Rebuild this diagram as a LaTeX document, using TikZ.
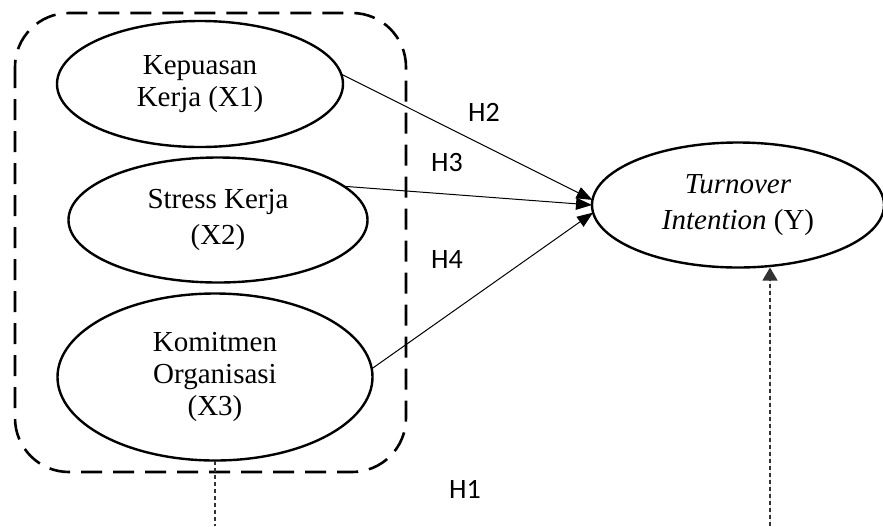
\documentclass[tikz,border=0pt]{standalone}
\usepackage{fontspec}
\setmainfont{Liberation Serif}
\newfontfamily\hfont{Carlito}
\usepackage{xcolor}
\usetikzlibrary{arrows.meta,positioning,shapes.geometric}
\definecolor{cLine}{HTML}{000000}
\definecolor{cDot}{HTML}{333333}
\tikzset{
  var/.style  ={draw=cLine, ellipse, line width=1.2pt, align=center, inner sep=0pt,
                outer sep=0pt, font=\fontsize{14.5}{16}\selectfont},
  grp/.style  ={draw=cLine, dash pattern=on 10.5pt off 5.5pt, line width=1.3pt, rounded corners=27pt},
  hyp/.style  ={font=\hfont\fontsize{14}{16}\selectfont, inner sep=0pt},
  arrow/.style={-{Triangle[length=8pt,width=6pt]}, line width=0.5pt, draw=cLine},
  dline/.style={dash pattern=on 2pt off 1.5pt, line width=0.6pt, draw=cDot},
  darrow/.style={dline, -{Triangle[length=6.5pt,width=7.5pt]}, fill=cLine},
}
\begin{document}
\begin{tikzpicture}[x=0.5pt, y=-0.5pt]
    \useasboundingbox (0,0) rectangle (883,526);
    % dashed group of the independent variables
    \draw[grp] (15,13) rectangle (406,472);
    \node[var, minimum width=143pt, minimum height=63pt] (kk) at (200,84) {Kepuasan\\Kerja (X1)};
    \node[var, minimum width=149.5pt, minimum height=62.5pt] (sk) at (218,220) {Stress Kerja\\[2pt](X2)};
    \node[var, minimum width=157.5pt, minimum height=83.5pt] (ko) at (215,377) {Komitmen\\Organisasi\\(X3)};
    \node[var, minimum width=146pt, minimum height=62.5pt] (ti) at (738,205) {\textit{Turnover}\\[2pt]\textit{Intention} (Y)};
    \node[hyp] (h2) at (484,112) {H2};
    \node[hyp] (h3) at (447,163) {H3};
    \node[hyp] (h4) at (447,260) {H4};
    \node[hyp] (h1) at (465,489) {H1};
    \coordinate (kofoot) at (215,526);
    \coordinate (tifoot) at (770,526);
    \draw[arrow](kk.4)--(ti.178); \draw[arrow](sk.15)--(ti.west); \draw[arrow](ko.3)--(ti.183);
    \draw[dline](ko.south)--(kofoot);
    \draw[darrow](tifoot)--(tifoot |- ti.south);
  \end{tikzpicture}
\end{document}
